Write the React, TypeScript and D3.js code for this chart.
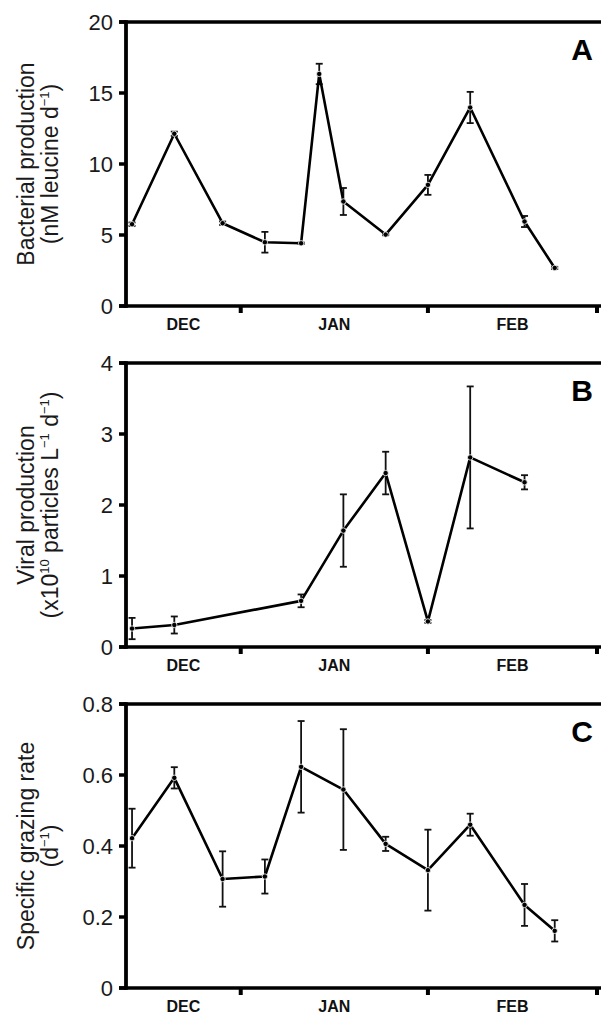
import * as d3 from 'd3'

const FONT = '"Liberation Sans", Arial, Helvetica, sans-serif'

// sampling dates (Dec in 2005, Jan/Feb in 2006)
const datesA = ['2005-12-14', '2005-12-21', '2005-12-29', '2006-01-05', '2006-01-11', '2006-01-14', '2006-01-18', '2006-01-25', '2006-02-01', '2006-02-08', '2006-02-17', '2006-02-22']
const valuesA = [5.76, 12.13, 5.83, 4.49, 4.42, 16.34, 7.36, 5.03, 8.53, 13.98, 5.95, 2.68]
const errorsA = [0.12, 0.15, 0.12, 0.73, 0.05, 0.72, 0.95, 0.05, 0.7, 1.1, 0.39, 0.08]

const datesB = ['2005-12-14', '2005-12-21', '2006-01-11', '2006-01-18', '2006-01-25', '2006-02-01', '2006-02-08', '2006-02-17']
const valuesB = [0.26, 0.31, 0.65, 1.64, 2.45, 0.36, 2.67, 2.32]
const errorsB = [0.15, 0.12, 0.09, 0.51, 0.3, 0.02, 1.0, 0.1]

const datesC = ['2005-12-14', '2005-12-21', '2005-12-29', '2006-01-05', '2006-01-11', '2006-01-18', '2006-01-25', '2006-02-01', '2006-02-08', '2006-02-17', '2006-02-22']
const valuesC = [0.422, 0.592, 0.307, 0.314, 0.623, 0.559, 0.406, 0.332, 0.46, 0.234, 0.161]
const errorsC = [0.083, 0.03, 0.078, 0.048, 0.129, 0.17, 0.02, 0.114, 0.031, 0.059, 0.03]

const ticksA = [0, 5, 10, 15, 20]
const ticksB = [0, 1, 2, 3, 4]
const ticksC = [0, 0.2, 0.4, 0.6, 0.8]

const months = ['DEC', 'JAN', 'FEB']
const monthBounds = ['2005-12-13', '2006-01-01', '2006-02-01', '2006-03-01']

const parse = d3.timeParse('%Y-%m-%d')

const W = 601
const H = 1013
const LEFT = 126
const RIGHT_TICK = 597

const x = d3.scaleTime()
  .domain([parse(monthBounds[0]), parse(monthBounds[3])])
  .range([LEFT, RIGHT_TICK])

type Sup = { t: string; sup?: boolean }

function Title({ cx, cy, parts, size = 23 }: { cx: number; cy: number; parts: Sup[]; size?: number }) {
  return (
    <text
      x={cx} y={cy}
      transform={`rotate(-90, ${cx}, ${cy})`}
      textAnchor="middle"
      fontFamily={FONT}
      fontSize={size}
      fill="#1a1a1a"
    >
      {parts.map((p, i) => p.sup
        ? <tspan key={i} fontSize={13} baselineShift="9">{p.t}</tspan>
        : <tspan key={i}>{p.t}</tspan>)}
    </text>
  )
}

function Panel({ top, dates, values, errors, ticks, max, letter, line1, line2, fmt }: any) {
  const bottom = top + 284
  const y = d3.scaleLinear().domain([0, max]).range([bottom, top])
  const pts = dates.map((d: string, i: number) => ({ d: parse(d), v: values[i], e: errors[i] }))
  const line = d3.line<any>().x(p => x(p.d)).y(p => y(p.v))
  const cy = (top + bottom) / 2
  const bounds = monthBounds.map(parse)

  return (
    <g>
      {/* y ticks + labels */}
      {ticks.map((t: number) => (
        <g key={t}>
          <line x1={119} x2={LEFT} y1={y(t)} y2={y(t)} stroke="#000" strokeWidth={3.5} />
          <text x={113} y={y(t)} dy="0.36em" textAnchor="end" fontFamily={FONT} fontSize={22} fill="#1a1a1a">
            {fmt(t)}
          </text>
        </g>
      ))}

      {/* frame */}
      <line x1={119} x2={W} y1={top} y2={top} stroke="#000" strokeWidth={3.5} />
      <line x1={119} x2={W} y1={bottom} y2={bottom} stroke="#000" strokeWidth={3.5} />
      <line x1={LEFT} x2={LEFT} y1={top - 1.75} y2={bottom + 1.75} stroke="#000" strokeWidth={3.8} />

      {/* month ticks */}
      {bounds.slice(1).map((b, i) => (
        <line key={i} x1={x(b)} x2={x(b)} y1={bottom} y2={bottom + 7} stroke="#000" strokeWidth={4} />
      ))}
      {months.map((m, i) => (
        <text key={m} x={(x(bounds[i]) + x(bounds[i + 1])) / 2} y={bottom + 23.5}
          textAnchor="middle" fontFamily={FONT} fontSize={16} fontWeight="bold" fill="#111">
          {m}
        </text>
      ))}

      {/* error bars */}
      {pts.map((p: any, i: number) => {
        const px = x(p.d)
        const y1 = y(p.v - p.e)
        const y2 = y(p.v + p.e)
        return (
          <g key={i} stroke="#111" strokeWidth={1.8}>
            <line x1={px} x2={px} y1={y1} y2={y2} />
            <line x1={px - 3.5} x2={px + 3.5} y1={y1} y2={y1} />
            <line x1={px - 3.5} x2={px + 3.5} y1={y2} y2={y2} />
          </g>
        )
      })}

      <path d={line(pts) || ''} fill="none" stroke="#000" strokeWidth={2.6} strokeLinejoin="round" />

      {pts.map((p: any, i: number) => (
        <circle key={i} cx={x(p.d)} cy={y(p.v)} r={2.7} fill="#000" stroke="#fff" strokeWidth={0.8} />
      ))}

      <text x={593} y={top + 38} textAnchor="end" fontFamily={FONT} fontSize={30} fontWeight="bold" fill="#000">
        {letter}
      </text>

      <Title cx={33.5} cy={cy} parts={line1} />
      <Title cx={58} cy={cy} parts={line2} />
    </g>
  )
}

export default function App() {
  return (
    <svg width={W} height={H} style={{ position: 'absolute', left: 0, top: 0, background: '#fff' }}>
      <rect width={W} height={H} fill="#fff" />
      <Panel
        top={22} dates={datesA} values={valuesA} errors={errorsA} ticks={ticksA} max={20}
        letter="A" fmt={(t: number) => String(t)}
        line1={[{ t: 'Bacterial production' }]}
        line2={[{ t: '(nM leucine d' }, { t: '−1', sup: true }, { t: ')' }]}
      />
      <Panel
        top={363} dates={datesB} values={valuesB} errors={errorsB} ticks={ticksB} max={4}
        letter="B" fmt={(t: number) => String(t)}
        line1={[{ t: 'Viral production' }]}
        line2={[{ t: '(x10' }, { t: '10', sup: true }, { t: ' particles L' }, { t: '−1', sup: true }, { t: ' d' }, { t: '−1', sup: true }, { t: ')' }]}
      />
      <Panel
        top={704} dates={datesC} values={valuesC} errors={errorsC} ticks={ticksC} max={0.8}
        letter="C" fmt={(t: number) => (t === 0 ? '0' : t.toFixed(1))}
        line1={[{ t: 'Specific grazing rate' }]}
        line2={[{ t: '(d' }, { t: '−1', sup: true }, { t: ')' }]}
      />
    </svg>
  )
}
